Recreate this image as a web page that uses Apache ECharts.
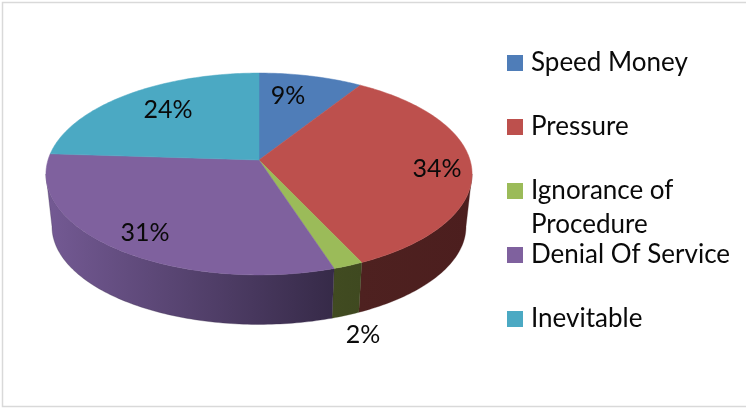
<!DOCTYPE html>
<html><head><meta charset="utf-8">
<style>html,body{margin:0;padding:0;background:#fff}#c{width:746px;height:409px}</style>
<script src="https://cdn.jsdelivr.net/npm/echarts@6/dist/echarts.min.js"></script>
</head><body><div id="c"></div>
<script>
const categories = ['Speed Money','Pressure','Ignorance of Procedure','Denial Of Service','Inevitable'];
const percents = [9,34,2,31,24];
const topColors = ['#4f7db8','#bd504d','#9bbb59','#7f619e','#4ba9c3'];
const wallLight = ['#38598a','#4e2120','#414b21','#745a94','#357a8c'];
const wallDark  = ['#38598a','#4c1e1e','#3f4920','#362a48','#357a8c'];
const labelText = ['9%','34%','2%','31%','24%'];
const labelPos = [[288,96],[437,169],[363,335],[145,233],[168,110]];

const FONT = 'Lato, "Open Sans", sans-serif';
const cx = 259, R = 211, k = 0.1387;
const faceTop = {cy:160, h:99, r:R};
const faceBot = {cy:213, h:96, r:205};
const total = percents.reduce((a,b)=>a+b,0);
const starts = percents.map((_,i)=>percents.slice(0,i).reduce((a,b)=>a+b,0)/total*360);

function proj(face, deg){
  const t = deg*Math.PI/180, X = Math.sin(t), Y = Math.cos(t), p = 1/(1+k*Y);
  return [cx+face.r*X*p, face.cy-face.h*Y*p];
}
function arc(face, a, b){
  const pts=[], n=Math.max(2,Math.ceil(Math.abs(b-a)));
  for(let i=0;i<=n;i++) pts.push(proj(face,a+(b-a)*i/n));
  return pts;
}
const visA = Math.acos(-k)*180/Math.PI, visB = 360-visA;

const series = categories.map((name,i)=>({
  name, type:'custom', coordinateSystem:'none',
  itemStyle:{color:topColors[i]},
  data:[percents[i]],
  renderItem(params, api){
    const a = starts[i], b = a + api.value(0)/total*360;
    const children = [];
    const wa = Math.max(a,visA), wb = Math.min(b,visB);
    if (wb>wa){
      const up = arc(faceTop,wa,wb), dn = arc(faceBot,wb,wa);
      children.push({type:'polygon', shape:{points:up.concat(dn)},
        style:{fill:new echarts.graphic.LinearGradient(0,0,1,0,[
          {offset:0,color:wallLight[i]},{offset:1,color:wallDark[i]}]),
          stroke:wallDark[i], lineWidth:0.3}});
    }
    children.push({type:'polygon', shape:{points:[[cx,faceTop.cy]].concat(arc(faceTop,a,b))},
      style:{fill:topColors[i], stroke:topColors[i], lineWidth:0.5}, z2:5});
    children.push({type:'text', z2:10, style:{text:labelText[i], x:labelPos[i][0], y:labelPos[i][1],
      align:'center', verticalAlign:'middle', font:'25px '+FONT, fill:'#0a0a0a'}});
    return {type:'group', children};
  }
}));

const chart = echarts.init(document.getElementById('c'), null, {renderer:'canvas'});
chart.setOption({
  animation:false,
  backgroundColor:'#fff',
  legend:{
    orient:'vertical', left:507, top:50, padding:0,
    itemWidth:16, itemHeight:16, itemGap:38, icon:'rect',
    data:categories,
    selectedMode:false,
    formatter:n=>n==='Ignorance of Procedure'?'Ignorance of':n,
    textStyle:{fontFamily:FONT,fontSize:26,color:'#0a0a0a',padding:[0,0,0,3]}
  },
  graphic:[
    {type:'rect', silent:true, z:-1, shape:{x:2.5,y:2.5,width:750,height:404},
      style:{fill:'none',stroke:'#d9d9d9',lineWidth:1.5}},
    {type:'text', silent:true, x:531, y:225, style:{text:'Procedure',font:'26px '+FONT,fill:'#0a0a0a',verticalAlign:'middle'}}
  ],
  series
});
</script></body></html>
